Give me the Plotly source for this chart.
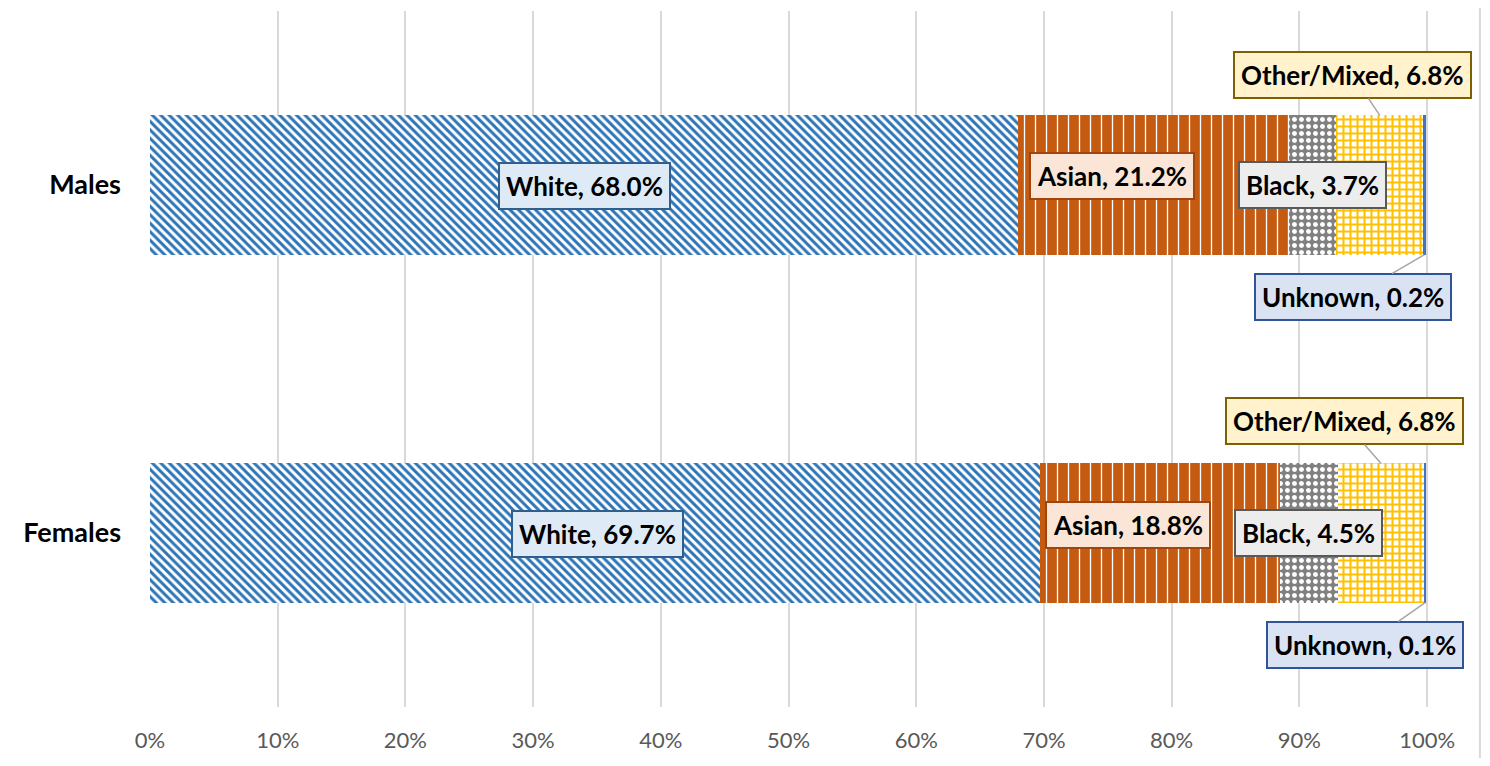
import plotly.graph_objects as go

categories = ["Females", "Males"]
groups = ["White", "Asian", "Black", "Other/Mixed", "Unknown"]
white = [69.7, 68.0]
asian = [18.8, 21.2]
black = [4.5, 3.7]
other = [6.8, 6.8]
unknown = [0.1, 0.2]
tick_vals = [0, 10, 20, 30, 40, 50, 60, 70, 80, 90, 100]
tick_text = [f"{v}%" for v in tick_vals]

series = [white, asian, black, other, unknown]
styles = [
    dict(color="#2E75B6", pattern=dict(shape="\\", fgcolor="#2E75B6", bgcolor="white", fgopacity=1, size=6, solidity=0.5)),
    dict(color="#C55A11", pattern=dict(shape="|", fgcolor="white", bgcolor="#C55A11", fgopacity=1, size=11, solidity=0.12)),
    dict(color="#808080", pattern=dict(shape=".", fgcolor="white", bgcolor="#808080", fgopacity=1, size=7, solidity=0.4)),
    dict(color="#FFC000", pattern=dict(shape="+", fgcolor="#FFC000", bgcolor="white", fgopacity=1, size=7, solidity=0.5)),
    dict(color="#4472C4"),
]
label_style = [
    ("#DEEBF7", "#2F5F8F"),
    ("#FBE5D6", "#A0450E"),
    ("#EDEDED", "#595959"),
    ("#FFF2CC", "#7F6000"),
    ("#DAE3F3", "#2F5597"),
]

fig = go.Figure()
for name, vals, st in zip(groups, series, styles):
    fig.add_trace(go.Bar(
        y=categories, x=vals, name=name, orientation="h",
        marker=dict(line=dict(width=0), **st), width=0.4,
        hoverinfo="x+name",
    ))

annotations = []
font = dict(family="Lato, sans-serif", size=26, color="black", weight="bold")
inside_offsets = {
    "Males": {"White": (0, -1), "Asian": (-42, 9), "Black": (0, 0)},
    "Females": {"White": (2, -1), "Asian": (-32, 8), "Black": (0, 0)},
}
arrow_offsets = {
    "Males": {"Other/Mixed": (-27, -40, 0.2), "Unknown": (-72, 42, -0.2)},
    "Females": {"Other/Mixed": (-37, -42, 0.2), "Unknown": (-60, 42, -0.2)},
}
for ci, cat in enumerate(categories):
    cum = 0.0
    for gi, (name, vals) in enumerate(zip(groups, series)):
        v = vals[ci]
        center = cum + v / 2
        cum += v
        bg, bd = label_style[gi]
        text = f"{name}, {v:.1f}%"
        if name in inside_offsets[cat]:
            xs, ys = inside_offsets[cat][name]
            annotations.append(dict(
                x=center, y=cat, text=text, showarrow=False, xshift=xs, yshift=ys,
                bgcolor=bg, bordercolor=bd, borderwidth=2, borderpad=6, font=font,
            ))
        else:
            ax, ay, dy = arrow_offsets[cat][name]
            annotations.append(dict(
                x=center, y=ci + dy, text=text, showarrow=True, arrowhead=0,
                arrowcolor="#A6A6A6", arrowwidth=1.5, ax=ax, ay=ay,
                bgcolor=bg, bordercolor=bd, borderwidth=2, borderpad=6, font=font,
            ))

shapes = [
    dict(type="line", xref="paper", yref="paper", x0=1.0398, x1=1.0398, y0=-0.09, y1=1.02,
         line=dict(color="#D9D9D9", width=2)),
]

fig.update_layout(
    barmode="stack",
    width=1474, height=750,
    margin=dict(l=142, r=53, t=3, b=51, autoexpand=False),
    paper_bgcolor="white", plot_bgcolor="white",
    showlegend=False,
    annotations=annotations,
    shapes=shapes,
    xaxis=dict(
        range=[0, 100.15], tickvals=tick_vals, ticktext=tick_text,
        showgrid=True, gridcolor="#D9D9D9", gridwidth=1.5, zeroline=False,
        showline=False, ticks="", automargin=False,
        tickfont=dict(family="Lato, sans-serif", size=22, color="#595959"),
        ticklabelstandoff=18,
    ),
    yaxis=dict(
        range=[-0.5, 1.5], showgrid=False, zeroline=False, showline=False, ticks="",
        automargin=False,
        tickfont=dict(family="Lato, sans-serif", size=27, color="black", weight="bold"),
        ticklabelstandoff=28,
    ),
)

fig.write_html("out.html")
